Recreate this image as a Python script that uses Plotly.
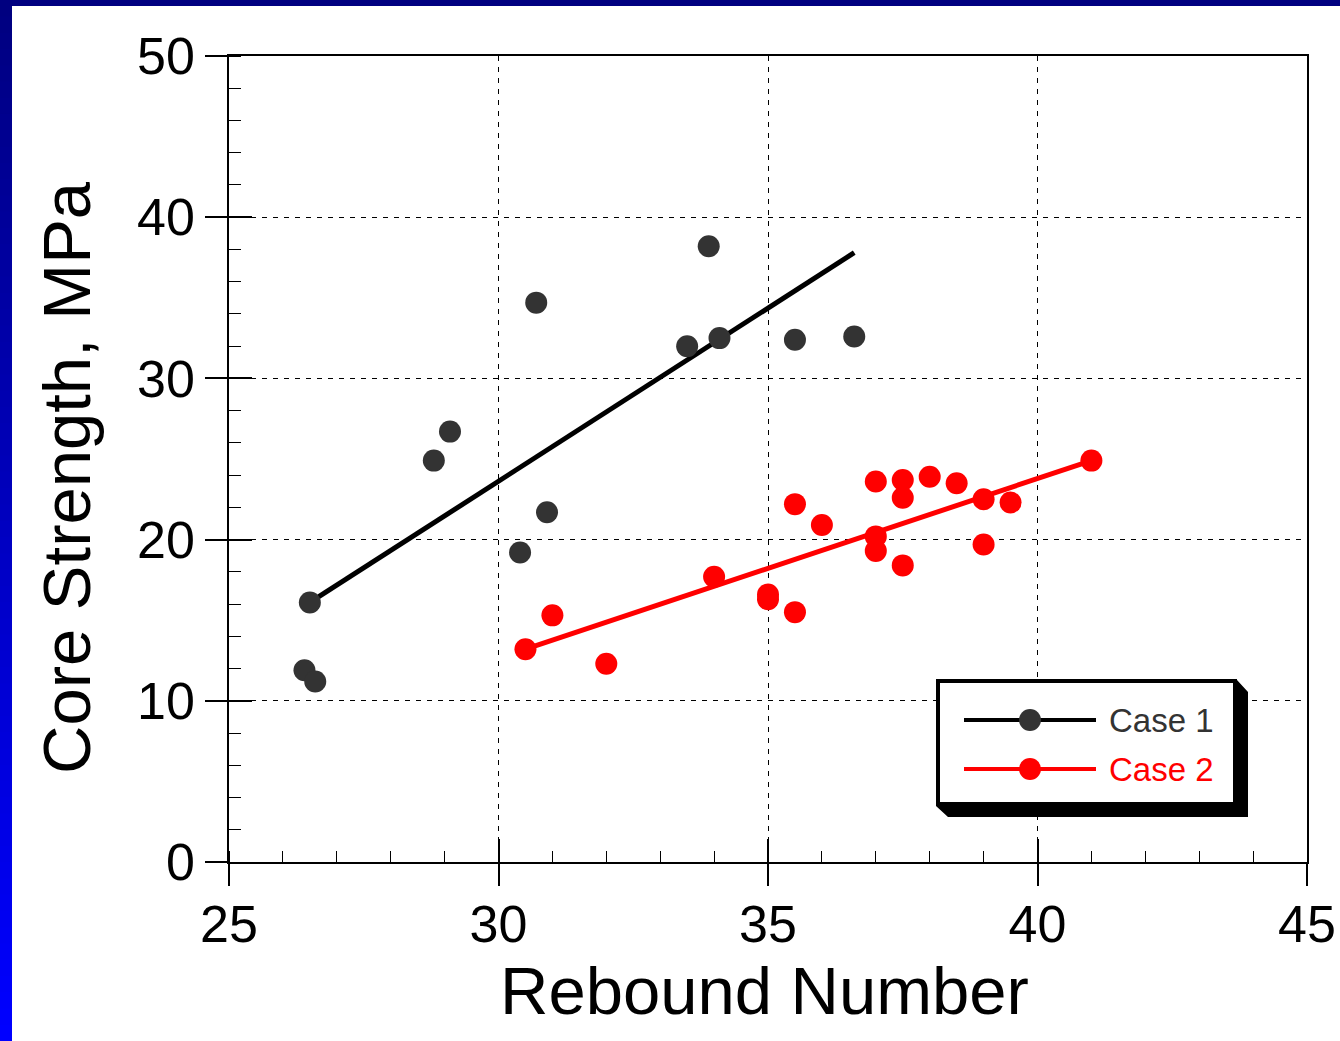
import numpy as np
import plotly.graph_objects as go

# --- dados ---
case1_rebound = [26.5, 26.4, 26.6, 28.8, 29.1, 30.7, 30.9, 30.4, 33.5, 34.1, 33.9, 35.5, 36.6]
case1_strength = [16.1, 11.9, 11.2, 24.9, 26.7, 34.7, 21.7, 19.2, 32.0, 32.5, 38.2, 32.4, 32.6]
case1_fit_x = [26.5, 36.6]
case1_fit_y = [16.1, 37.8]

case2_rebound = [30.5, 31.0, 32.0, 34.0, 35.0, 35.0, 35.5, 35.5, 36.0, 37.0, 37.0, 37.0,
                 37.5, 37.5, 37.5, 38.0, 38.5, 39.0, 39.0, 39.5, 41.0]
case2_strength = [13.2, 15.3, 12.3, 17.7, 16.6, 16.3, 15.5, 22.2, 20.9, 23.6, 20.2, 19.3,
                  23.7, 22.6, 18.4, 23.9, 23.5, 22.5, 19.7, 22.3, 24.9]
case2_fit_x = [30.5, 41.0]
case2_fit_y = [13.2, 24.9]

x_ticks = [25, 30, 35, 40, 45]
y_ticks = [0, 10, 20, 30, 40, 50]
series_names = ['Case 1', 'Case 2']

# --- geometria (pixels da figura) ---
W, H = 1340, 1041
L, R, T, B = 229, 1307, 56, 862
PW, PH = R - L, B - T


def px(x):
    return (x - L) / PW


def py(y):
    return (B - y) / PH


FONTE = 'Liberation Sans, Arial, sans-serif'
PRETO = '#000000'
CINZA = '#333333'
VERMELHO = '#ff0000'

fig = go.Figure()

fig.add_trace(go.Scatter(x=case1_fit_x, y=case1_fit_y, mode='lines',
                         line=dict(color=PRETO, width=5), showlegend=False, hoverinfo='skip'))
fig.add_trace(go.Scatter(x=case2_fit_x, y=case2_fit_y, mode='lines',
                         line=dict(color=VERMELHO, width=5), showlegend=False, hoverinfo='skip'))
fig.add_trace(go.Scatter(x=case1_rebound, y=case1_strength, mode='markers', name=series_names[0],
                         marker=dict(color=CINZA, size=22, line=dict(width=0)), showlegend=False))
fig.add_trace(go.Scatter(x=case2_rebound, y=case2_strength, mode='markers', name=series_names[1],
                         marker=dict(color=VERMELHO, size=22, line=dict(width=0)), showlegend=False))
# traço vazio só para os eixos sobrepostos (ticks internos)
fig.add_trace(go.Scatter(x=[None], y=[None], xaxis='x2', yaxis='y2', showlegend=False, hoverinfo='skip'))

eixo_comum = dict(showline=True, linecolor=PRETO, linewidth=1.5, mirror=True,
                  ticks='outside', ticklen=22, tickwidth=1.5, tickcolor=PRETO,
                  showgrid=True, gridcolor=PRETO, gridwidth=1, griddash='5px,6px',
                  zeroline=False, tickfont=dict(family=FONTE, size=52, color=PRETO))

fig.update_layout(
    width=W, height=H,
    margin=dict(l=L, r=W - R, t=T, b=H - B, autoexpand=False),
    paper_bgcolor='white', plot_bgcolor='white',
    showlegend=False,
    xaxis=dict(range=[25, 45], tickvals=x_ticks, ticklabelstandoff=-6,
               minor=dict(ticks='inside', dtick=1, ticklen=11, tickcolor=PRETO, tickwidth=1, showgrid=False),
               **eixo_comum),
    yaxis=dict(range=[0, 50], tickvals=y_ticks,
               minor=dict(ticks='inside', dtick=2, ticklen=12, tickcolor=PRETO, tickwidth=1, showgrid=False),
               **eixo_comum),
    xaxis2=dict(overlaying='x', range=[25, 45], tickvals=x_ticks, ticks='inside', ticklen=23,
                tickwidth=1.5, tickcolor=PRETO, showticklabels=False, showgrid=False,
                showline=False, zeroline=False),
    yaxis2=dict(overlaying='y', range=[0, 50], tickvals=y_ticks, ticks='inside', ticklen=23,
                tickwidth=1.5, tickcolor=PRETO, showticklabels=False, showgrid=False,
                showline=False, zeroline=False),
)

# --- títulos dos eixos ---
fig.add_annotation(text='Rebound Number', x=px(764), y=py(990), xref='paper', yref='paper',
                   showarrow=False, font=dict(family=FONTE, size=67, color=PRETO),
                   xanchor='center', yanchor='middle')
fig.add_annotation(text='Core Strength, MPa', x=px(67), y=py(478), xref='paper', yref='paper',
                   showarrow=False, textangle=-90, font=dict(family=FONTE, size=67, color=PRETO),
                   xanchor='center', yanchor='middle')

# --- moldura azul (slide) ---
fig.add_shape(type='rect', xref='paper', yref='paper', x0=px(0), x1=px(W), y0=py(0), y1=py(6),
              fillcolor='#000080', line=dict(width=0), layer='above')
n = 64
for i in range(n):
    t = i / (n - 1)
    cor = 'rgb(0,0,%d)' % round(128 + 127 * t)
    fig.add_shape(type='rect', xref='paper', yref='paper',
                  x0=px(0), x1=px(12), y0=py(H * i / n), y1=py(H * (i + 1) / n + 1),
                  fillcolor=cor, line=dict(width=0), layer='above')

# --- legenda desenhada à mão ---
sombra = 'M %f %f L %f %f L %f %f L %f %f L %f %f L %f %f Z' % (
    px(1237), py(680), px(1248), py(692), px(1248), py(817),
    px(948), py(817), px(936), py(806), px(1237), py(806))
fig.add_shape(type='path', path=sombra, xref='paper', yref='paper',
              fillcolor=PRETO, line=dict(width=0), layer='above')
fig.add_shape(type='rect', xref='paper', yref='paper',
              x0=px(938), x1=px(1235), y0=py(804), y1=py(681),
              fillcolor='white', line=dict(color=PRETO, width=4), layer='above')

for nome, cor_linha, cor_marca, cor_texto, yy in [
        (series_names[0], PRETO, CINZA, CINZA, 720),
        (series_names[1], VERMELHO, VERMELHO, VERMELHO, 769)]:
    fig.add_shape(type='line', xref='paper', yref='paper', x0=px(964), x1=px(1096),
                  y0=py(yy), y1=py(yy), line=dict(color=cor_linha, width=4), layer='above')
    fig.add_shape(type='circle', xref='paper', yref='paper', x0=px(1019), x1=px(1041),
                  y0=py(yy + 11), y1=py(yy - 11), fillcolor=cor_marca,
                  line=dict(width=0), layer='above')
    fig.add_annotation(text=nome, x=px(1107), y=py(yy), xref='paper', yref='paper',
                       showarrow=False, xanchor='left', yanchor='middle',
                       font=dict(family=FONTE, size=33, color=cor_texto))

# a página tem margem de 8px no body; zera para o gráfico ocupar a janela toda
fig.write_html('out.html', config={'displayModeBar': False},
               post_script="document.body.style.margin='0';")
